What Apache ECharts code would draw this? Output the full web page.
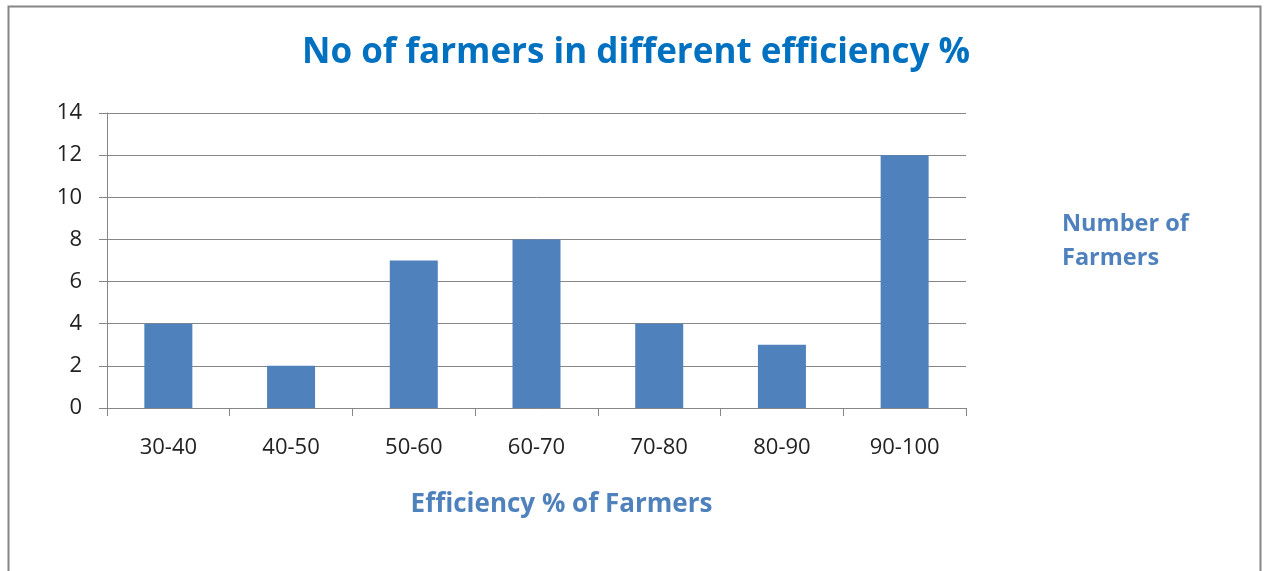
<!DOCTYPE html>
<html>
<head>
<meta charset="utf-8">
<script src="https://cdn.jsdelivr.net/npm/echarts@6/dist/echarts.min.js"></script>
<style>
  html, body { margin: 0; padding: 0; background: #fff; }
  #main { width: 1265px; height: 571px; }
</style>
</head>
<body>
<div id="main"></div>
<script>
// data
var categories = ['30-40', '40-50', '50-60', '60-70', '70-80', '80-90', '90-100'];
var farmers = [4, 2, 7, 8, 4, 3, 12];
var seriesName = 'Number of Farmers';

var chart = echarts.init(document.getElementById('main'));

var option = {
  animation: false,
  textStyle: { fontFamily: 'Open Sans' },
  title: {
    text: 'No of farmers in different efficiency %',
    left: 631,
    textAlign: 'center',
    top: 31,
    textStyle: { color: '#0070C0', fontSize: 35, fontWeight: 'bold', fontFamily: 'Open Sans' }
  },
  legend: {
    data: [{ name: seriesName, icon: 'none' }],
    left: 1052,
    top: 202,
    itemWidth: 0,
    itemGap: 0,
    formatter: function () { return 'Number of\nFarmers'; },
    textStyle: { color: '#4F81BD', fontSize: 23.5, fontWeight: 'bold', lineHeight: 34 }
  },
  grid: { left: 107, right: 299, top: 113, bottom: 163 },
  xAxis: {
    type: 'category',
    data: categories,
    name: 'Efficiency % of Farmers',
    nameLocation: 'middle',
    nameGap: 84,
    nameTextStyle: { color: '#4F81BD', fontSize: 26, fontWeight: 'bold', padding: [0, 0, 0, 50] },
    axisLine: { lineStyle: { color: '#868686', width: 1 } },
    axisTick: { show: true, length: 8, lineStyle: { color: '#868686' } },
    axisLabel: { color: '#222', fontSize: 22, margin: 29 }
  },
  yAxis: {
    type: 'value',
    min: 0,
    max: 14,
    interval: 2,
    axisLine: { show: true, lineStyle: { color: '#868686', width: 1 } },
    axisTick: { show: true, length: 8, lineStyle: { color: '#868686' } },
    axisLabel: { color: '#222', fontSize: 22, margin: 25 },
    splitLine: { lineStyle: { color: '#868686', width: 1 } }
  },
  series: [{
    name: seriesName,
    type: 'bar',
    data: farmers,
    barWidth: 48,
    itemStyle: { color: '#4F81BD' }
  }],
  graphic: [{
    type: 'rect',
    shape: { x: 8.5, y: 6.5, width: 1252, height: 600 },
    style: { fill: 'none', stroke: '#868686', lineWidth: 2 },
    silent: true
  }]
};

chart.setOption(option);
</script>
</body>
</html>
